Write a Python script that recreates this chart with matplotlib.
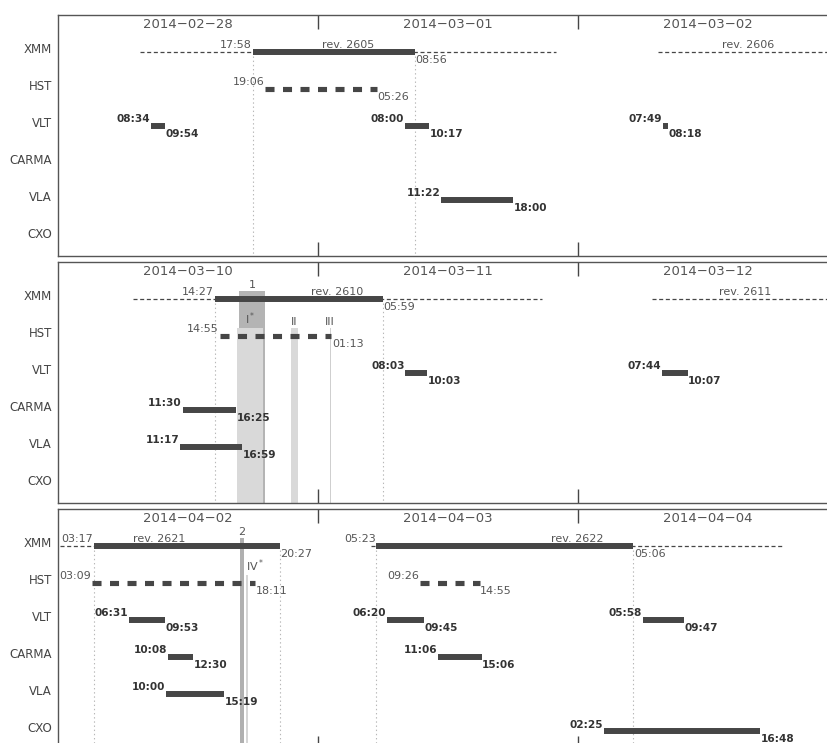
import matplotlib
matplotlib.use('Agg')
import matplotlib.pyplot as plt
import pandas as pd

plt.rcParams['font.family'] = 'DejaVu Sans'
plt.rcParams['lines.scale_dashes'] = False

instruments = ['XMM', 'HST', 'VLT', 'CARMA', 'VLA', 'CXO']
panel_days = ['2014-02-28', '2014-03-10', '2014-04-02']

# XMM revolutions: visibility window (dashed) and the observation itself (bar)
xmm_revs = [2605, 2606, 2610, 2611, 2621, 2622]
xmm_windows = [
    ('2014-02-28 07:34', '2014-03-01 22:00'),
    ('2014-03-02 07:24', '2014-03-03 00:00'),
    ('2014-03-10 06:55', '2014-03-11 20:41'),
    ('2014-03-12 06:48', '2014-03-13 00:00'),
    ('2014-04-01 22:18', '2014-04-02 20:27'),
    ('2014-04-03 04:53', '2014-04-04 18:54'),
]
xmm_obs = [
    ('2014-02-28 17:58', '2014-03-01 08:56'),
    ('2014-03-10 14:27', '2014-03-11 05:59'),
    ('2014-04-02 03:17', '2014-04-02 20:27'),
    ('2014-04-03 05:23', '2014-04-04 05:06'),
]
hst_obs = [
    ('2014-02-28 19:06', '2014-03-01 05:26'),
    ('2014-03-10 14:55', '2014-03-11 01:13'),
    ('2014-04-02 03:09', '2014-04-02 18:11'),
    ('2014-04-03 09:26', '2014-04-03 14:55'),
]
vlt_obs = [
    ('2014-02-28 08:34', '2014-02-28 09:54'),
    ('2014-03-01 08:00', '2014-03-01 10:17'),
    ('2014-03-02 07:49', '2014-03-02 08:18'),
    ('2014-03-11 08:03', '2014-03-11 10:03'),
    ('2014-03-12 07:44', '2014-03-12 10:07'),
    ('2014-04-02 06:31', '2014-04-02 09:53'),
    ('2014-04-03 06:20', '2014-04-03 09:45'),
    ('2014-04-04 05:58', '2014-04-04 09:47'),
]
carma_obs = [
    ('2014-03-10 11:30', '2014-03-10 16:25'),
    ('2014-04-02 10:08', '2014-04-02 12:30'),
    ('2014-04-03 11:06', '2014-04-03 15:06'),
]
vla_obs = [
    ('2014-03-01 11:22', '2014-03-01 18:00'),
    ('2014-03-10 11:17', '2014-03-10 16:59'),
    ('2014-04-02 10:00', '2014-04-02 15:19'),
]
cxo_obs = [
    ('2014-04-04 02:25', '2014-04-04 16:48'),
]

# flares / highlighted intervals
band_names = ['1', 'I$^*$', 'II', 'III', '2', 'IV$^*$']
band_times = [
    ('2014-03-10 16:43', '2014-03-10 19:07'),
    ('2014-03-10 16:30', '2014-03-10 18:56'),
    ('2014-03-10 21:31', '2014-03-10 22:08'),
    ('2014-03-11 01:05', '2014-03-11 01:10'),
    ('2014-04-02 16:48', '2014-04-02 17:12'),
    ('2014-04-02 17:20', '2014-04-02 17:34'),
]
band_rows = ['XMM', 'HST', 'HST', 'HST', 'XMM', 'HST']
band_colors = ['#b4b4b4', '#d9d9d9', '#d9d9d9', '#cfcfcf', '#b0b0b0', '#d6d6d6']
band_ha = ['center', 'center', 'center', 'center', 'center', 'left']

ground = {'VLT': vlt_obs, 'CARMA': carma_obs, 'VLA': vla_obs, 'CXO': cxo_obs}

ink = '#464646'
soft = '#555555'
days = [pd.Timestamp(d) for d in panel_days]
hour = pd.Timedelta(hours=1)


def locate(t):
    t = pd.Timestamp(t)
    for i, d in enumerate(days):
        if d - 24 * hour <= t < d + 72 * hour:
            return i, (t - d) / hour
    return None, None


def span(t0, t1):
    p, x0 = locate(t0)
    x1 = x0 + (pd.Timestamp(t1) - pd.Timestamp(t0)) / hour
    return p, x0, x1


def start_label(ax, x, y, txt, bold=False):
    ax.annotate(txt, (x, y), xytext=(-0.5, 2.6), textcoords='offset points',
                ha='right', va='baseline', fontsize=7.6 if bold else 8,
                fontweight='bold' if bold else 'normal',
                color='#333333' if bold else soft)


def end_label(ax, x, y, txt, bold=False):
    ax.annotate(txt, (x, y), xytext=(0.5, -2.4), textcoords='offset points',
                ha='left', va='top', fontsize=7.6 if bold else 8,
                fontweight='bold' if bold else 'normal',
                color='#333333' if bold else soft)


W, H = 827, 743
fig = plt.figure(figsize=(W / 100, H / 100), dpi=100)
axes = []
for top in [15, 262, 509]:
    ax = fig.add_axes([58 / W, 1 - (top + 241) / H, 780 / W, 241 / H])
    ax.set_xlim(0, 72)
    ax.set_ylim(5.51, -1.0)
    ax.set_xticks([24, 48])
    ax.tick_params(axis='x', direction='in', top=True, bottom=True, length=10,
                   width=1, color=ink, labelbottom=False)
    ax.set_yticks([r - 0.1 for r in range(len(instruments))])
    ax.set_yticklabels(instruments)
    ax.tick_params(axis='y', length=0, pad=4.5, labelsize=8.5, labelcolor='#444444')
    for s in ax.spines.values():
        s.set_color('#555555')
        s.set_linewidth(1.0)
    axes.append(ax)

for i, ax in enumerate(axes):
    for k in range(3):
        date = (days[i] + 24 * k * hour).strftime('%Y-%m-%d').replace('-', '\u2212')
        ax.text(12 + 24 * k, -0.73, date, ha='center', va='center',
                fontsize=9.5, color=soft)

row = {name: k for k, name in enumerate(instruments)}

# highlighted bands
for name, (t0, t1), r, c, ha in zip(band_names, band_times, band_rows, band_colors, band_ha):
    p, x0, x1 = span(t0, t1)
    ax = axes[p]
    ytop = row[r] - 0.22
    ax.bar(x0, 6 - ytop, width=x1 - x0, bottom=ytop, align='edge',
           color=c, linewidth=0, zorder=1)
    ax.text(x0 if ha == 'left' else (x0 + x1) / 2, ytop - 0.02, name,
            ha=ha, va='bottom', fontsize=8, color='#555555')

# XMM revolution windows
for rev, (t0, t1) in zip(xmm_revs, xmm_windows):
    p, x0, x1 = span(t0, t1)
    ax = axes[p]
    ax.plot([x0, x1], [0, 0], color=ink, lw=0.9, dashes=(2.9, 1.9), zorder=2)
    ax.annotate(f'rev. {rev}', ((x0 + x1) / 2, 0), xytext=(0, 2.6),
                textcoords='offset points', ha='center', va='baseline',
                fontsize=8, color=soft)

# XMM observations
for t0, t1 in xmm_obs:
    p, x0, x1 = span(t0, t1)
    ax = axes[p]
    ax.plot([x0, x1], [0, 0], color=ink, lw=4.3, solid_capstyle='butt', zorder=3)
    for x in (x0, x1):
        ax.plot([x, x], [0.12, 6], color='#b8b8b8', lw=0.8,
                linestyle=(0, (1, 2)), zorder=1.5)
    start_label(ax, x0, 0, pd.Timestamp(t0).strftime('%H:%M'))
    end_label(ax, x1, 0, pd.Timestamp(t1).strftime('%H:%M'))

# HST visits
for t0, t1 in hst_obs:
    p, x0, x1 = span(t0, t1)
    ax = axes[p]
    ax.plot([x0, x1], [1, 1], color=ink, lw=3.7, dashes=(6.5, 6.1),
            dash_capstyle='butt', zorder=3)
    start_label(ax, x0, 1, pd.Timestamp(t0).strftime('%H:%M'))
    end_label(ax, x1, 1, pd.Timestamp(t1).strftime('%H:%M'))

# ground-based and Chandra
for name, obs in ground.items():
    y = row[name]
    for t0, t1 in obs:
        p, x0, x1 = span(t0, t1)
        ax = axes[p]
        ax.plot([x0, x1], [y, y], color=ink, lw=4.3, solid_capstyle='butt', zorder=3)
        start_label(ax, x0, y, pd.Timestamp(t0).strftime('%H:%M'), bold=True)
        end_label(ax, x1, y, pd.Timestamp(t1).strftime('%H:%M'), bold=True)

fig.savefig('out.png', dpi=100)
